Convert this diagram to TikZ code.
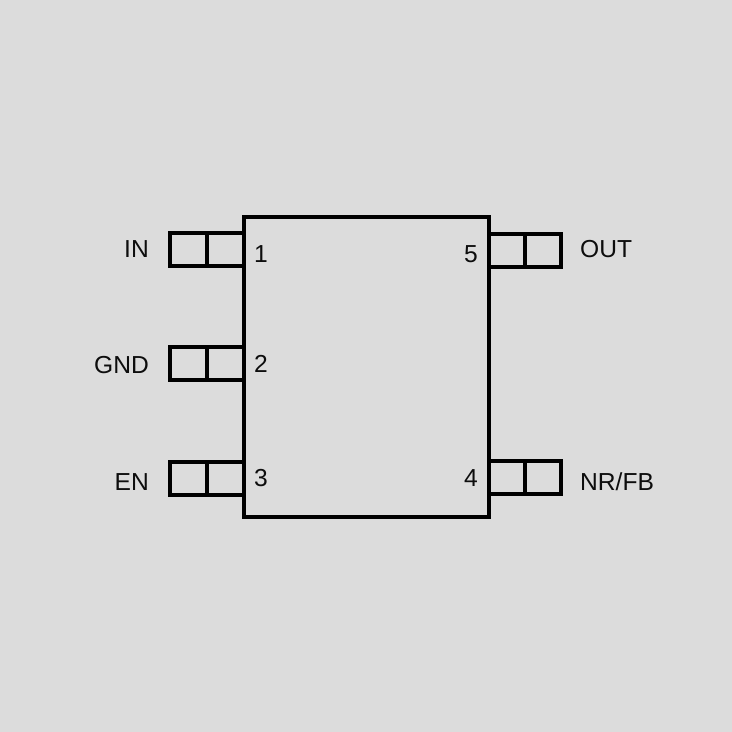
\documentclass[tikz,border=0pt]{standalone}
\usepackage{fontspec}
\setmainfont{Liberation Sans}
\definecolor{bgc}{RGB}{220,220,220}
\tikzset{x=1pt,y=-1pt,
 outline/.style={draw=black,line width=4pt,fill=none,line join=miter},
 label/.style={font=\fontsize{24.6}{28}\selectfont,inner sep=0pt,text=black!95}}
\begin{document}
\begin{tikzpicture}
\useasboundingbox[fill=bgc] (0,0) rectangle (732,732);
\draw[outline] (244,217) rectangle (489,517);
\draw[outline] (244,233) -- (170,233) -- (170,266) -- (244,266);
\draw[outline] (207,233) -- (207,266);
\draw[outline] (244,347) -- (170,347) -- (170,380) -- (244,380);
\draw[outline] (207,347) -- (207,380);
\draw[outline] (244,462) -- (170,462) -- (170,495) -- (244,495);
\draw[outline] (207,462) -- (207,495);
\draw[outline] (489,234) -- (561,234) -- (561,267) -- (489,267);
\draw[outline] (525,234) -- (525,267);
\draw[outline] (489,461) -- (561,461) -- (561,494) -- (489,494);
\draw[outline] (525,461) -- (525,494);
\node[label,anchor=base east] (lin) at (149,257) {IN};
\node[label,anchor=base east] (lgnd) at (149,373) {GND};
\node[label,anchor=base east] (len) at (149,490) {EN};
\node[label,anchor=base west] (lout) at (580,257) {OUT};
\node[label,anchor=base west] (lnr) at (580,490) {NR/FB};
\node[label,anchor=base] (n1) at (261,262) {1};
\node[label,anchor=base] (n2) at (261,372) {2};
\node[label,anchor=base] (n3) at (261,486) {3};
\node[label,anchor=base] (n5) at (471,262) {5};
\node[label,anchor=base] (n4) at (471,486) {4};
\end{tikzpicture}
\end{document}
